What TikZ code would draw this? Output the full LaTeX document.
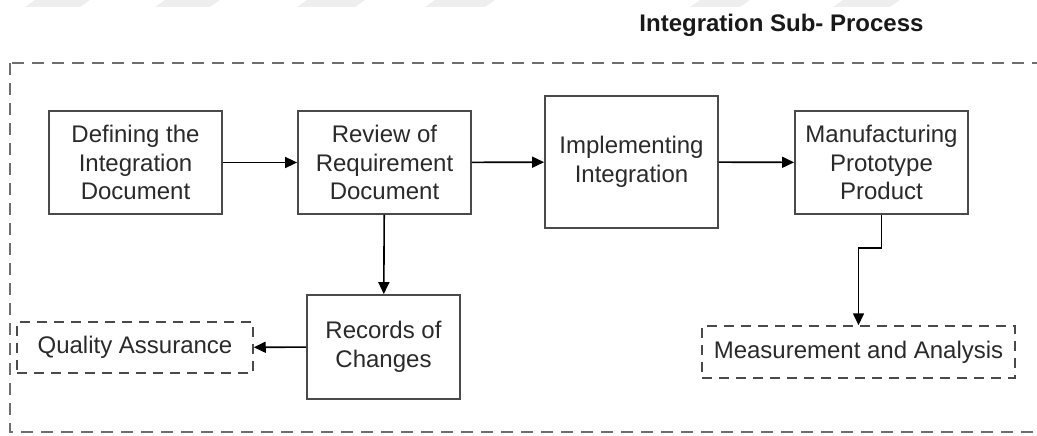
\documentclass[tikz,border=0pt]{standalone}
\usepackage{fontspec}
\setmainfont{Liberation Sans}
\usetikzlibrary{arrows.meta}

\definecolor{boxline}{HTML}{4A4A4A}
\definecolor{txt}{HTML}{2A2A2A}
\definecolor{frameline}{HTML}{6E6E6E}
\definecolor{shade}{HTML}{EEEEEE}

\tikzset{
  proc/.style={draw=boxline, line width=1.8pt, fill=white, text=txt,
    align=center, inner sep=0pt, minimum width=173pt, minimum height=103pt,
    font=\fontsize{24}{28.5}\selectfont},
  ext/.style={draw=boxline, line width=1.5pt, dash pattern=on 10pt off 7pt,
    text=txt, align=center, inner sep=0pt, minimum height=51pt,
    font=\fontsize{24}{28.5}\selectfont},
  arr/.style={draw=black, line width=1.6pt,
    -{Triangle[length=12pt,width=11pt]}},
  frame/.style={draw=frameline, line width=2.6pt, dash pattern=on 12pt off 8pt},
  band/.style={fill=shade, draw=none}
}

\begin{document}
\begin{tikzpicture}[x=1pt, y=-1pt]
  \useasboundingbox (0,0) rectangle (1037,436);

  % faint slanted bands along the top edge
  \foreach \s/\w in {25/55, 155/55, 297/58, 425/60, 690/50, 833/57}
    \fill[band] (\s,7) -- (\s+\w,7) -- (\s+\w+10,0) -- (\s+10,0) -- cycle;

  % sub-process title and boundary
  \node[anchor=base, font=\bfseries\fontsize{24}{28}\selectfont, text=black!90]
    (title) at (781.5,32) {Integration Sub- Process};
  \draw[frame] (10,63) rectangle (1038,432);

  % process steps
  \node[proc] (define) at (135.5,162.5) {Defining the\\Integration\\Document};
  \node[proc] (review) at (384.5,162.5) {Review of\\Requirement\\Document};
  \node[proc, minimum height=132pt] (impl) at (631.5,162) {Implementing\\Integration};
  \node[proc] (manuf) at (881.5,162.5) {Manufacturing\\Prototype\\Product};
  \node[proc, minimum width=153pt, minimum height=104pt] (records) at (383.5,347) {Records of\\Changes};

  % external processes
  \node[ext, minimum width=236pt] (qa) at (135,347.5) {Quality Assurance};
  \node[ext, minimum width=313pt, minimum height=52pt] (meas) at (858.5,352) {Measurement and Analysis};

  % flow
  \draw[arr] (define) -- (review);
  \draw[arr] (review) -- (impl);
  \draw[arr] (impl) -- (manuf);
  \draw[arr] (review) -- (records);
  \draw[arr] (records) -- (qa);
  \draw[arr] (manuf.south) -- ++(0,33) -| (meas.north);
\end{tikzpicture}
\end{document}
